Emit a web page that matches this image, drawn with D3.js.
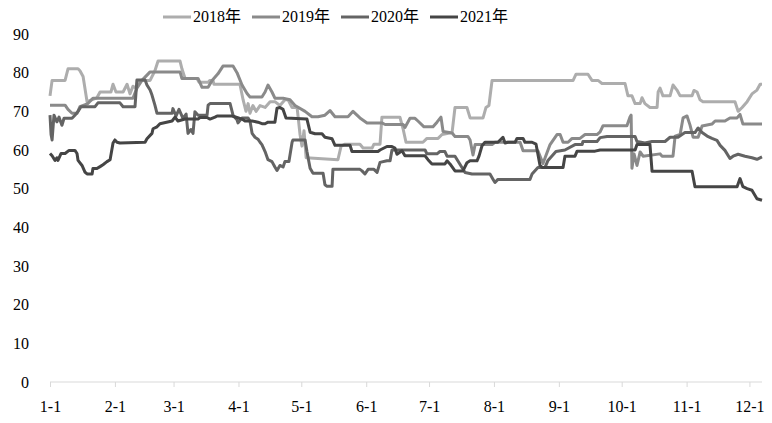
<!DOCTYPE html>
<html><head><meta charset="utf-8">
<script src="https://cdn.jsdelivr.net/npm/d3@7"></script>
<style>body{margin:0;background:#fff}svg{display:block}text{font-family:"Liberation Serif","Noto Sans CJK SC",serif;fill:#000}</style>
</head><body><svg id="c" width="772" height="423"></svg>
<script>
// day-of-year offsets (0 = Jan 1) and values per series
const days2018=[0,1,7.2,8.6,13.4,14.3,15.8,17.7,22.4,23.9,29.1,30.1,31.5,34.9,36.8,38.2,39.6,41.1,42,47.8,50.1,51.6,62.1,63,64.5,70.2,71.2,75.5,76.4,77.8,78.3,90.7,92.2,93.6,94.6,95.5,96.9,98.4,100.3,102.7,105.1,107.4,109.8,112.2,113.7,115.6,118,119.4,120.3,121.3,122.3,137.5,139,140.9,148,149.5,153.8,154.7,157.6,158.5,167.1,168.6,170,178.1,180,185.3,187.2,192,193.4,199.1,200.6,206.8,208.2,209.6,211.1,249.8,251.2,256.9,258.8,261.7,263.6,274.6,276,277.9,279.4,281.8,282.7,284.1,286.5,289.9,290.4,291.3,292.7,296.1,297.5,299.4,300.9,306.6,307.5,309,310.4,311.8,327.1,328.6,330.5,332.9,335.2,337.6,339.1,340];
const vals2018=[74,78,78,81,81,80.5,79,72.5,73.5,75,75,77,75,75,77,74.5,76.5,76,78,78,80.5,83,83,81,78.5,78.5,77.5,77.5,78,78,77,77,73,70,72,69.5,71.5,70,71.5,71,72.5,72.5,71.5,73,73,71,71,64,61,65,58,57.5,61,61.5,61.5,60.5,60.5,61.5,61.5,68.5,68.5,65.5,62,62,63,63,64,64.5,71,71,68.3,68.3,71,71.5,78,78,79.6,79.6,78,78,77.2,77.2,74,74,72,72,73.5,72,71,71,75,76,74,74,76.8,75.5,74,74,75.4,75,73,72.5,72.5,70,71,72.5,74.5,75.5,77,77];

const days2019=[0,7.2,8.6,10.5,12.9,14.3,18.1,20.5,39.6,41.5,43.9,47.8,62.1,63,70.7,72.6,75.5,77.4,80.2,82.6,87.4,89.3,91.7,94.1,95.5,101.2,102.7,104.1,106,107.4,111.3,114.6,117,121.8,125.1,128,131.3,133.7,136.1,142.3,144.7,148,151.4,158.5,160,168.6,169.5,171.9,174.3,175.7,178.6,182.9,184.8,186.7,187.7,192,193.4,199.6,200.6,202,203,211.1,212.5,224.5,225.9,233,235.4,238.8,242.1,243.6,245,247.4,249.3,253.1,255.5,261.2,262.7,264.1,275.5,277,277.5,277.9,278.9,280.3,281.8,283.2,291.3,292.3,297.5,298.5,300.9,302.3,304.2,305.6,307.1,309.5,311.4,316.1,317.6,322.3,324.7,328.1,329.5,330.9,340];
const vals2019=[71.6,71.6,70.5,69.5,69.5,71.2,72,73.4,73.4,76,78,80.2,80.2,78.5,78.5,76.2,76.2,78,79.7,81.7,81.7,80,76.8,74.6,73.7,73.7,75,76.8,75,73.4,73.4,73,71.5,70,68.6,68.6,69,70.2,68.6,68.6,70,68.3,67,67,66.6,66.6,65.8,68.2,68.2,67.5,66,66,67.2,68.5,64.8,64.4,63.5,63.5,62.6,58.7,61.4,61.4,62,62,59.8,59.8,56.5,61.4,64,64,62,62,63,63,64,64,64.7,66.3,66.3,68.6,69,55.3,59,56,59.5,58.4,59,58.4,58.4,63.6,64,68.3,68.8,66.5,63.3,63.3,66.2,66.7,67.5,67.5,68.3,68.3,69.2,66.7,66.7];

const days2020=[0,0.5,1,1.9,3.3,4.3,5.7,6.7,10.5,11.9,13.4,14.8,21.5,22.9,33.4,34.9,40.6,41.5,45.4,46.3,47.8,48.7,50.1,51.1,58.3,58.7,60.2,61.6,63.5,65,65.9,67.3,68.3,69.2,70.7,75,75.5,76.4,86,87.4,89.3,89.8,91.7,94.6,95.5,96.5,97.9,99.3,100.3,101.2,102.7,104.1,106,107.4,108.4,109.8,111.3,112.2,114.1,115.6,116,121.8,122.7,124.2,125.6,130.4,131.3,132.3,134.7,135.1,148,149,150.4,151.9,154.7,156.2,157.6,160.9,162.4,163.3,179.1,180,184.8,186.2,188.6,189.6,193.4,198.2,201.5,210.1,211.6,212.5,213.9,229.2,230.2,233,236.4,237.8,241.6,245.9,250.7,254.1,254.5,261.2,262.7,266,279.4,280.3,284.1,287.5,293.7,296.1,299.9,301.8,303.2,308,309.5,311.4,313.8,316.1,318.5,320,322.3,324.7,326.2,328.6,331.9,335.2,337.6,340];
const vals2020=[69,64,62.6,69,67.3,68.5,66.4,68.2,68.2,69,70,71.2,71.2,72.2,72.2,71.2,71.2,78.1,78.1,76.8,75.5,74.2,71.6,69.5,69.5,70.7,68.8,70.5,68.2,69.3,64.3,65.3,64.3,69.9,69,69,71.6,72,72,69,67.8,67,68.3,68.3,67.5,64.3,63.3,62.8,62,61.4,59.6,57.5,57,55.6,54.7,56,55.6,57,57,62,62.6,62.6,59.6,55.3,54,54,51,50.6,50.6,55,55,54.6,53.8,55,55,54.2,56.8,57.2,57.2,60,60,59,59,59.6,59.6,58.4,58.4,54.2,53.8,53.8,52.4,51.6,52.4,52.4,53.8,55.5,55.5,57.3,59.6,60,61.4,61.4,62.2,62.2,63.2,63.5,63.5,62.2,61.8,62.2,62.2,63.3,63.3,64,64.5,64.5,65.7,64.5,63.6,63,62.5,61.2,59.9,57.8,58.4,58.9,58.4,58,57.6,58.2];

const days2021=[0,1,2.4,3.3,3.8,5.3,7.2,9.1,11.9,12.9,13.4,15.3,16.7,17.7,20.1,20.5,22.4,23.9,25.3,27.2,28.7,30.1,31,32,33.4,45.4,46.3,48.7,49.2,51.1,52.5,58.3,59.7,61.1,64.5,70.7,71.6,75,76.4,78.8,79.8,86.9,89.3,91.7,93.1,96.5,99.3,101.2,102.7,104.1,107.4,108.4,109.8,111.3,112.7,122.7,124.2,126.6,129.9,131.3,134.7,136.1,143.3,144.2,156.6,157.6,160.9,163.3,164.7,165.7,168.1,169.5,179.1,180.5,182.4,188.6,189.6,191,193.4,197.2,199.1,200.6,203.9,204.9,206.3,207.7,213.9,216.3,217.3,218.7,222.1,223,225.9,226.8,230.2,232.1,234,235,245,245.9,250.7,251.7,260.3,262.7,279.4,280.3,286.5,287.5,306.6,308,328.1,329.5,330.9,332.9,335.2,337.6,340];
const vals2021=[59.1,58.5,57.3,58,57.3,59.1,59.1,59.9,59.9,59.1,57.3,56,54.3,53.8,53.8,55.2,55.2,55.7,56.2,57,57.5,61.8,62.6,62,61.8,62,62.9,64.3,65.5,66,66.8,67.5,68.5,67.5,68,68,68.4,68.4,68,68.5,68.8,68.8,68.4,68,67.5,67.5,67.2,66.8,66.8,67.2,67.2,70.8,71,70.5,68.3,68,64.6,64.2,64.2,63.3,62.9,61.2,61.2,59.6,59.6,60,60.9,60.9,60.5,58.9,59.8,58.5,58.5,57.5,56.4,56.4,57.2,56.4,54.6,54.6,56.7,57.2,57.2,58.5,61.1,62,62,63.3,61.8,62,62,63,63,62,62,61.5,56,55.5,55.5,58.4,58.4,59.7,59.7,60,60,61.4,61.4,54.5,54.5,50.5,50.5,52.6,50.5,50,49.6,47.4,47];

const seriesNames=["2018年","2019年","2020年","2021年"];
const seriesColors=["#adadad","#8a8a8a","#646464","#454545"];
const monthTicks=[0,31,59,90,120,151,181,212,243,273,304,334];
const monthLabels=["1-1","2-1","3-1","4-1","5-1","6-1","7-1","8-1","9-1","10-1","11-1","12-1"];
const yTicks=[0,10,20,30,40,50,60,70,80,90];

const svg=d3.select("#c");
const x=d3.scaleLinear().domain([0,340]).range([50,762]);
const y=d3.scaleLinear().domain([0,90]).range([382,34]);

// x axis
const xa=svg.append("g").attr("transform","translate(0,382)")
  .call(d3.axisBottom(x).tickValues(monthTicks).tickFormat((d,i)=>monthLabels[i]).tickSize(5).tickPadding(14));
xa.select(".domain").attr("stroke","#d9d9d9").attr("d","M50,0H762");
xa.selectAll(".tick line").attr("stroke","#d9d9d9");
xa.selectAll(".tick text").attr("font-size",16).attr("fill","#000").style("font-family","Liberation Serif");

// y axis labels only
const ya=svg.append("g").attr("transform","translate(29,0)")
  .call(d3.axisLeft(y).tickValues(yTicks).tickSize(0).tickPadding(0));
ya.select(".domain").remove();
ya.selectAll(".tick text").attr("font-size",16).attr("fill","#000").style("font-family","Liberation Serif");

const all=[[days2018,vals2018],[days2019,vals2019],[days2020,vals2020],[days2021,vals2021]];
const line=d3.line().x(d=>x(d[0])).y(d=>y(d[1]));
all.forEach(([ds,vs],i)=>{
  const pts=ds.map((d,j)=>[d,vs[j]]);
  svg.append("path").datum(pts).attr("d",line).attr("fill","none")
    .attr("stroke",seriesColors[i]).attr("stroke-width",3).attr("stroke-linejoin","round");
});

// legend
const lg=svg.append("g");
seriesNames.forEach((n,i)=>{
  const x0=163+i*89;
  lg.append("line").attr("x1",x0).attr("x2",x0+28).attr("y1",17).attr("y2",17)
    .attr("stroke",seriesColors[i]).attr("stroke-width",3);
  lg.append("text").attr("x",x0+30).attr("y",22).attr("font-size",16).text(n);
});
</script></body></html>
